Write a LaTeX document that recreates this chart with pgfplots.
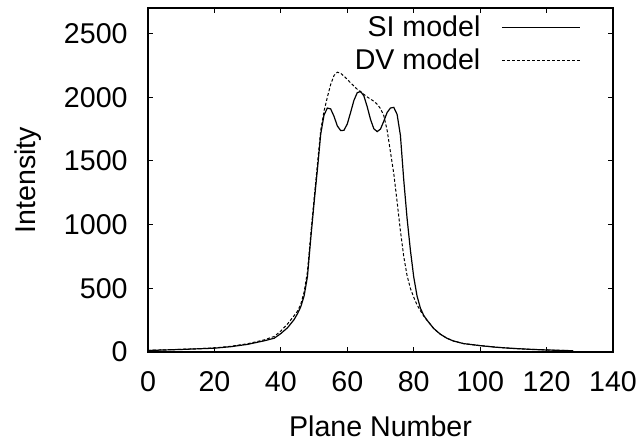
\documentclass[border=0pt]{standalone}
\usepackage{fontspec}
\setmainfont{Liberation Sans}
\usepackage{pgfplots}
\pgfplotsset{compat=1.18}

\pgfplotstableread{
x y
0 12
5 16
10 20
15 25
20 30
25 42
30 60
35 88
38 108
40 145
42 190
44 255
45 300
46 355
47 440
48 590
49 890
50 1170
51 1430
52 1710
53 1860
54 1915
55 1908
56 1850
57 1775
58 1738
59 1740
60 1790
61 1880
62 1975
63 2035
64 2045
65 2010
66 1925
67 1825
68 1752
69 1730
70 1750
71 1812
72 1880
73 1915
74 1920
75 1865
76 1700
77 1350
78 1050
79 800
80 590
81 440
82 345
83 288
84 250
86 185
88 140
90 108
92 86
95 66
100 50
105 37
110 28
115 21
120 16
125 12
128 10
}\simodel

\pgfplotstableread{
x y
0 13
5 17
10 21
15 26
20 32
25 45
30 65
35 95
38 122
40 165
42 220
44 285
45 320
46 375
47 470
48 630
49 920
50 1200
51 1470
52 1740
53 1890
54 2000
55 2100
56 2170
57 2196
58 2188
59 2165
60 2140
61 2112
62 2088
63 2062
64 2042
65 2022
66 2002
67 1985
68 1968
69 1945
70 1910
71 1855
72 1740
73 1570
74 1400
75 1180
76 950
77 750
78 600
79 500
80 430
81 370
82 325
83 283
84 250
86 185
88 140
90 108
92 86
95 66
100 50
105 37
110 28
115 21
120 16
125 12
128 10
}\dvmodel

\begin{document}
\begin{tikzpicture}
% fix the page to the reference proportions (1px = 0.5pt)
\useasboundingbox (0pt,0pt) rectangle (322pt,222.5pt);
\begin{axis}[
  at={(74pt,46.5pt)}, anchor=south west,
  scale only axis, width=232.5pt, height=172pt,
  xmin=0, xmax=140, ymin=0, ymax=2700,
  xtick={0,20,...,140}, ytick={0,500,...,2500},
  tick align=inside, major tick length=2.5pt,
  tick style={black, line width=0.5pt},
  axis line style={line width=0.6pt},
  font=\fontsize{14.3}{17}\selectfont,
  /pgf/number format/assume math mode=true,
  /pgf/number format/1000 sep={},
  xticklabel style={inner sep=0pt, anchor=north, yshift=-9.5pt},
  yticklabel style={inner sep=0pt, anchor=east, xshift=-10pt},
  xlabel={Plane Number}, ylabel={Intensity},
  every axis x label/.style={at={([yshift=-37.3pt]axis description cs:0.5,0)}, anchor=center},
  every axis y label/.style={at={([xshift=-60pt]axis description cs:0,0.5)}, anchor=center, rotate=90},
  legend style={draw=none, fill=none, at={([xshift=-16pt,yshift=-3.5pt]axis description cs:1,1)},
    anchor=north east, inner sep=0pt, row sep=5pt, column sep=10.5pt,
    nodes={inner sep=0pt},
    font=\fontsize{14.3}{17}\selectfont},
  legend cell align=right,
  legend plot pos=right,
  legend image code/.code={\draw[#1] (0pt,0pt) -- (39pt,0pt);},
]
\addplot[black, line width=0.6pt] table[x=x, y=y] {\simodel};
\addlegendentry{SI model}
\addplot[black, line width=0.5pt, dash pattern=on 1.5pt off 1pt] table[x=x, y=y] {\dvmodel};
\addlegendentry{DV model}
\end{axis}
\end{tikzpicture}
\end{document}
